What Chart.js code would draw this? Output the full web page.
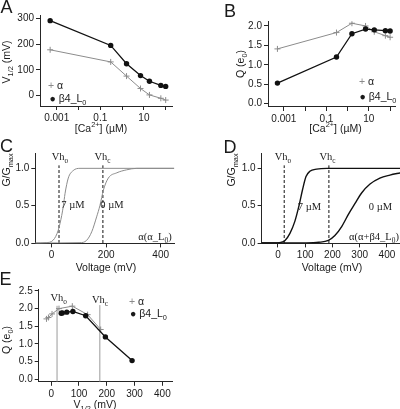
<!DOCTYPE html>
<html><head><meta charset="utf-8">
<script src="https://cdn.jsdelivr.net/npm/chart.js@4.4.0/dist/chart.umd.min.js"></script>
<style>
html,body{margin:0;padding:0;background:#fff;}
#wrap{position:relative;width:400px;height:409px;overflow:hidden;background:#fff;font-family:'Liberation Sans',Arial,sans-serif;color:#1a1a1a;}
canvas.full{position:absolute;left:0;top:0;}
.t{position:absolute;white-space:nowrap;transform:translate(-50%,-50%);line-height:1;}
.l{position:absolute;white-space:nowrap;transform:translateY(-50%);line-height:1;font-size:10.5px;}
.rot{transform:translate(-50%,-50%) rotate(-90deg);}
.letter{font-size:18px;}
.title{font-size:10.5px;}
.serif{font-family:'Liberation Serif','Times New Roman',serif;font-size:10.5px;}
.gray{color:#8a8a8a;}
sub,sup{font-size:70%;line-height:0;}
</style>
</head><body>
<div id="wrap">
<canvas id="cA" class="full" width="400" height="409"></canvas>
<canvas id="cB" class="full" width="400" height="409"></canvas>
<canvas id="cC" class="full" width="400" height="409"></canvas>
<canvas id="cD" class="full" width="400" height="409"></canvas>
<canvas id="cE" class="full" width="400" height="409"></canvas>

<div class="t letter" style="left:6.5px;top:7px">A</div>
<div class="t letter" style="left:230px;top:11px">B</div>
<div class="t letter" style="left:6.5px;top:146px">C</div>
<div class="t letter" style="left:230px;top:147px">D</div>
<div class="t letter" style="left:5.5px;top:279px">E</div>

<div class="t title rot" style="left:6px;top:62px">V<sub>1/2</sub> (mV)</div>
<div class="t title" style="left:101px;top:127.5px">[Ca<sup>2+</sup>] (µM)</div>
<div class="t title rot" style="left:240px;top:64px">Q (e<sub>0</sub>)</div>
<div class="t title" style="left:335.5px;top:127.5px">[Ca<sup>2+</sup>] (µM)</div>
<div class="t title rot" style="left:6px;top:170px">G/G<sub>max</sub></div>
<div class="t title" style="left:106px;top:266.5px">Voltage (mV)</div>
<div class="t title rot" style="left:231px;top:170px">G/G<sub>max</sub></div>
<div class="t title" style="left:332px;top:266.5px">Voltage (mV)</div>
<div class="t title rot" style="left:6px;top:340px">Q (e<sub>0</sub>)</div>
<div class="t title" style="left:95px;top:404px">V<sub>1/2</sub> (mV)</div>

<div class="l" style="left:48px;top:85px"><span class="gray">+</span> α</div>
<div class="l" style="left:49.5px;top:97.5px">● β4_L<sub>0</sub></div>
<div class="l" style="left:359px;top:81px"><span class="gray">+</span> α</div>
<div class="l" style="left:359.5px;top:95.7px">● β4_L<sub>0</sub></div>
<div class="l" style="left:129px;top:300.5px"><span class="gray">+</span> α</div>
<div class="l" style="left:130px;top:313px">● β4_L<sub>0</sub></div>

<div class="t serif" style="left:60px;top:157.3px">Vh<sub>o</sub></div>
<div class="t serif" style="left:102.5px;top:157.3px">Vh<sub>c</sub></div>
<div class="t serif" style="left:73px;top:205px">7 µM</div>
<div class="t serif" style="left:112px;top:205px">0 µM</div>
<div class="t serif" style="left:155px;top:237.3px">α(α_L<sub>0</sub>)</div>

<div class="t serif" style="left:283px;top:157px">Vh<sub>o</sub></div>
<div class="t serif" style="left:327.5px;top:157px">Vh<sub>c</sub></div>
<div class="t serif" style="left:309.5px;top:207px">7 µM</div>
<div class="t serif" style="left:380.5px;top:207px">0 µM</div>
<div class="t serif" style="left:374px;top:236.5px">α(α+β4_L<sub>0</sub>)</div>

<div class="t serif" style="left:58.7px;top:298.3px">Vh<sub>o</sub></div>
<div class="t serif" style="left:100px;top:300px">Vh<sub>c</sub></div>
</div>

<script>
// ---- data ----
const caConc      = [0.0005, 0.3, 1.6, 7, 18, 60, 100];           // µM
const vhalfAlpha  = [178, 131, 76, 28, 3, -10, -17];               // mV
const vhalfB4     = [291, 195, 124, 78, 56, 40, 36];               // mV
const qAlpha      = [1.41, 1.83, 2.07, 2.0, 1.85, 1.75, 1.71];     // e0
const qB4         = [0.53, 1.20, 1.80, 1.92, 1.90, 1.88, 1.87];    // e0

// panel C (alpha, alpha_L0 model), G/Gmax vs voltage
const vC7  = [-60, -20, 6, 24, 37, 43, 49, 61, 79, 104, 450];
const gC7  = [0, 0.005, 0.04, 0.17, 0.37, 0.5, 0.66, 0.87, 0.97, 1.0, 1.0];
const vC0  = [-60, 104, 128, 147, 165, 177, 190, 208, 239, 275, 312, 450];
const gC0  = [0, 0.005, 0.035, 0.15, 0.35, 0.5, 0.71, 0.87, 0.94, 0.98, 1.0, 1.0];
// panel D (alpha, alpha+beta4_L0 model)
const vD7  = [-60, 0, 10, 26, 44, 62, 78, 90, 103, 117, 142, 180, 450];
const gD7  = [0, 0.002, 0.008, 0.035, 0.13, 0.29, 0.51, 0.71, 0.89, 0.96, 0.99, 1.0, 1.0];
const vD0  = [-60, 100, 150, 185, 209, 234, 258, 283, 307, 338, 374, 411, 450];
const gD0  = [0, 0.002, 0.01, 0.035, 0.1, 0.22, 0.38, 0.53, 0.67, 0.79, 0.87, 0.91, 0.94];

const vhC = [27, 188];   // Vh_o, Vh_c in panel C
const vhD = [23, 187];   // panel D
const vhE = [21, 175];   // panel E

// tick values / labels
const caTicks      = [0.001, 0.01, 0.1, 1, 10, 100];
const caTickLabels = ['0.001', '', '0.1', '', '10', ''];
const vTicksA      = [0, 100, 200, 300];
const qTicksB      = [0, 0.5, 1.0, 1.5, 2.0];
const gTicks       = [0, 0.5, 1.0];
const vTicksC      = [0, 200, 400];
const vTicksD      = [0, 100, 200, 300, 400];
const vTicksE      = [0, 100, 200, 300, 400];
const qTicksE      = [0, 0.5, 1.0, 1.5, 2.0, 2.5];

// ---- drawing ----
const FONT = "'Liberation Sans', Arial, sans-serif";
const AX = '#262626', TXT = '#1a1a1a', GRAY = '#8c8c8c', BLK = '#111';
const YW = 34, XH = 16;

function axis(pos, type, min, max, values, labelFn, fitKey) {
  return {
    type, position: pos, min, max,
    grid: {display: true, drawOnChartArea: false, drawTicks: true, tickLength: 4, color: AX, lineWidth: 1},
    border: {display: true, color: AX, width: 1},
    ticks: {font: {family: FONT, size: 10}, color: TXT, padding: 2, maxRotation: 0, autoSkip: false,
            callback: (v, i) => labelFn(values[i], i)},
    afterBuildTicks: s => { s.ticks = values.map(v => ({value: v})); },
    afterFit: s => { if (fitKey === 'w') s.width = YW; else s.height = XH; }
  };
}

function panel(id, area, xAxis, yAxis, datasets) {
  return new Chart(document.getElementById(id), {
    type: 'scatter',
    data: {datasets},
    options: {
      responsive: false, animation: false, events: [],
      layout: {padding: {left: area.L - YW, top: area.T, right: 400 - area.R, bottom: 409 - area.B - XH}},
      plugins: {legend: {display: false}, tooltip: {enabled: false}},
      scales: {x: xAxis, y: yAxis}
    }
  });
}

const pts = (xs, ys) => xs.map((x, i) => ({x, y: ys[i]}));
const vline = (x, y0, y1) => [{x, y: y0}, {x, y: y1}];

function alphaSet(data) {
  return {data, showLine: true, borderColor: GRAY, borderWidth: 1, pointStyle: 'cross',
          pointRadius: 3, pointBorderColor: GRAY, pointBorderWidth: 1, order: 2};
}
function b4Set(data) {
  return {data, showLine: true, borderColor: BLK, borderWidth: 1.3, pointStyle: 'circle',
          pointRadius: 2.7, pointBackgroundColor: BLK, pointBorderColor: BLK, pointBorderWidth: 0, order: 1};
}
function curve(data, color, w) {
  return {data, showLine: true, borderColor: color, borderWidth: w, pointRadius: 0,
          cubicInterpolationMode: 'monotone', order: 3};
}
function dashed(data) {
  return {data, showLine: true, borderColor: BLK, borderWidth: 1, borderDash: [3, 2], pointRadius: 0, order: 4};
}
function solidV(data) {
  return {data, showLine: true, borderColor: '#9a9a9a', borderWidth: 1, pointRadius: 0, order: 4};
}

const caLabel = (v, i) => caTickLabels[i];
const intLabel = v => String(v);
const dec1 = v => v.toFixed(1);

// A
panel('cA', {L: 40, T: 15, R: 172, B: 106},
  axis('bottom', 'logarithmic', 0.000171, 195, caTicks, caLabel, 'h'),
  axis('left', 'linear', -40, 313, vTicksA, intLabel, 'w'),
  [b4Set(pts(caConc, vhalfB4)), alphaSet(pts(caConc, vhalfAlpha))]);

// B
panel('cB', {L: 268, T: 21.3, R: 397, B: 107},
  axis('bottom', 'logarithmic', 0.00018, 170, caTicks, caLabel, 'h'),
  axis('left', 'linear', -0.085, 2.12, qTicksB, dec1, 'w'),
  [b4Set(pts(caConc, qB4)), alphaSet(pts(caConc, qAlpha))]);

// C
panel('cC', {L: 35.3, T: 153.4, R: 174.3, B: 243.4},
  axis('bottom', 'linear', -60, 450, vTicksC, intLabel, 'h'),
  axis('left', 'linear', -0.005, 1.2, gTicks, dec1, 'w'),
  [curve(pts(vC7, gC7), GRAY, 1), curve(pts(vC0, gC0), GRAY, 1),
   dashed(vline(vhC[0], 0, 1.04)), dashed(vline(vhC[1], 0, 1.04))]);

// D
panel('cD', {L: 261.6, T: 153.4, R: 400, B: 243.4},
  axis('bottom', 'linear', -60, 448, vTicksD, intLabel, 'h'),
  axis('left', 'linear', -0.005, 1.2, gTicks, dec1, 'w'),
  [curve(pts(vD7, gD7), BLK, 1.4), curve(pts(vD0, gD0), BLK, 1.4),
   dashed(vline(vhD[0], 0, 1.04)), dashed(vline(vhD[1], 0, 1.04))]);

// E
panel('cE', {L: 38.7, T: 289.9, R: 172.1, B: 381.8},
  axis('bottom', 'linear', -45, 435, vTicksE, intLabel, 'h'),
  axis('left', 'linear', -0.07, 2.53, qTicksE, dec1, 'w'),
  [b4Set(pts(vhalfB4, qB4)), alphaSet(pts(vhalfAlpha, qAlpha)),
   solidV(vline(vhE[0], -0.07, 2.08)), solidV(vline(vhE[1], -0.07, 2.1))]);
</script>
</body></html>
